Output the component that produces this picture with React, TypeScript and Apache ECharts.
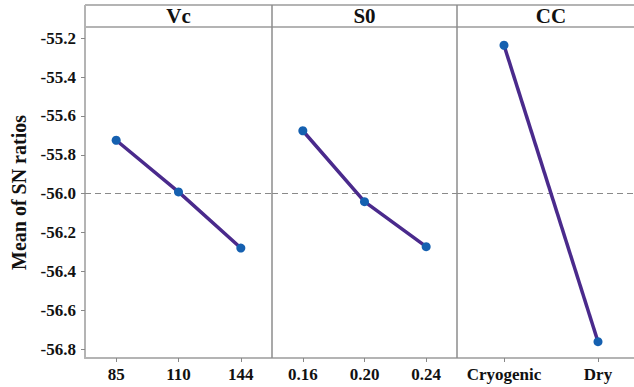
import React, { useEffect, useRef } from "react";
import * as echarts from "echarts";

// Main effects plot for SN ratios
const factorNames = ["Vc", "S0", "CC"];
const vcLevels = ["85", "110", "144"];
const s0Levels = ["0.16", "0.20", "0.24"];
const ccLevels = ["Cryogenic", "Dry"];
const vcMeans = [-55.725, -55.991, -56.28];
const s0Means = [-55.676, -56.041, -56.273];
const ccMeans = [-55.236, -56.762];
const overallMean = -56.0;

const FONT = "Liberation Serif";
const FRAME = "#b4b4b4";
const DIVIDER = "#8c8c8c";
const LINE = "#4a2a8c";
const MARK = "#1560b0";

export default function App() {
  const ref = useRef<HTMLDivElement>(null);

  useEffect(() => {
    if (!ref.current) return;
    const chart = echarts.init(ref.current, undefined, { renderer: "svg" });

    const plotTop = 27;
    const plotHeight = 331;
    const panels = [
      { left: 85, width: 187, levels: vcLevels, means: vcMeans },
      { left: 272, width: 185, levels: s0Levels, means: s0Means },
      { left: 457, width: 188, levels: ccLevels, means: ccMeans },
    ];
    const yMin = -56.846;
    const yMax = -55.142;

    const tickText = {
      fontFamily: FONT,
      fontWeight: "bold",
      fontSize: 17,
      color: "#111",
    };
    const rich = { t: tickText };

    const grids = panels.map((p) => ({
      left: p.left,
      width: p.width,
      top: plotTop,
      height: plotHeight,
      containLabel: false,
    }));

    const xAxes = panels.map((p, i) => ({
      type: "category",
      gridIndex: i,
      data: p.levels,
      boundaryGap: true,
      axisLine: { show: true, lineStyle: { color: FRAME, width: 2 } },
      axisTick: { show: true, alignWithLabel: true, length: 4, lineStyle: { color: "#888" } },
      axisLabel: {
        margin: 8,
        interval: 0,
        hideOverlap: false,
        ...tickText,
        formatter: (v: string) => `{t|${v}}`,
        rich,
      },
      splitLine: { show: false },
    }));

    const yAxes = panels.map((_, i) => ({
      type: "value",
      gridIndex: i,
      min: yMin,
      max: yMax,
      splitNumber: 8,
      show: i === 0,
      name: i === 0 ? "Mean of SN ratios" : "",
      nameLocation: "middle",
      nameGap: 56,
      nameTextStyle: {
        fontFamily: FONT,
        fontWeight: "bold",
        fontSize: 20,
        color: "#111",
      },
      axisLine: { show: true, lineStyle: { color: FRAME, width: 2 } },
      axisTick: { show: true, length: 4, lineStyle: { color: "#888" } },
      axisLabel: {
        margin: 9,
        showMinLabel: false,
        showMaxLabel: false,
        ...tickText,
        formatter: (v: number) => `{t|${v.toFixed(1)}}`,
        rich,
      },
      splitLine: { show: false },
    }));

    const series = panels.map((p, i) => ({
      type: "line",
      xAxisIndex: i,
      yAxisIndex: i,
      data: p.means,
      symbol: "circle",
      symbolSize: 9,
      lineStyle: { color: LINE, width: 3.5 },
      itemStyle: { color: MARK },
      z: 3,
      markLine: {
        silent: true,
        symbol: "none",
        label: { show: false },
        lineStyle: { color: "#8a8a8a", type: [6, 4], width: 1 },
        data: [{ yAxis: overallMean }],
        z: 1,
      },
    }));

    const frameLines: any[] = [
      { x1: 85, y1: 5, x2: 660, y2: 5, color: FRAME, w: 2 },
      { x1: 85, y1: 27, x2: 660, y2: 27, color: FRAME, w: 2 },
      { x1: 85, y1: 5, x2: 85, y2: 27, color: FRAME, w: 2 },
      { x1: 272, y1: 5, x2: 272, y2: 358, color: DIVIDER, w: 1.5 },
      { x1: 457, y1: 5, x2: 457, y2: 358, color: DIVIDER, w: 1.5 },
    ].map((l) => ({
      type: "line",
      shape: { x1: l.x1, y1: l.y1, x2: l.x2, y2: l.y2 },
      style: { stroke: l.color, lineWidth: l.w },
      silent: true,
      z: 10,
    }));

    const headers = panels.map((p, i) => ({
      type: "text",
      x: p.left + p.width / 2,
      y: 16,
      style: {
        text: factorNames[i],
        font: `bold 21px ${FONT}`,
        fill: "#111",
        align: "center",
        verticalAlign: "middle",
      },
      silent: true,
      z: 10,
    }));

    chart.setOption({
      animation: false,
      backgroundColor: "#ffffff",
      textStyle: { fontFamily: FONT },
      grid: grids,
      xAxis: xAxes,
      yAxis: yAxes,
      series,
      graphic: [...frameLines, ...headers],
    } as any);

    return () => chart.dispose();
  }, []);

  // The chart canvas runs a little past the visible window on the right,
  // so the last panel keeps its full width and is cut at the edge.
  return (
    <div
      style={{
        position: "absolute",
        left: 0,
        top: 0,
        width: 634,
        height: 387,
        overflow: "hidden",
        background: "#fff",
      }}
    >
      <div ref={ref} style={{ width: 660, height: 387 }} />
    </div>
  );
}
